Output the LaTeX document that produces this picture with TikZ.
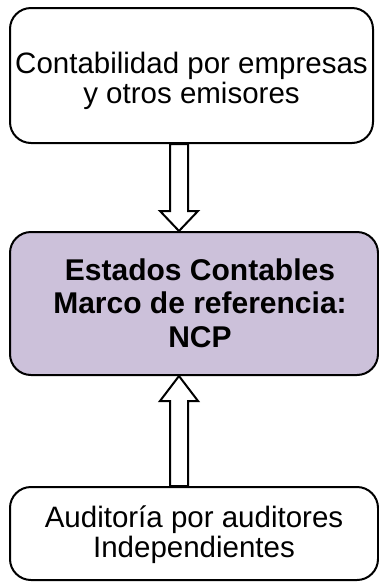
\documentclass[tikz,border=0pt]{standalone}
\usepackage{fontspec}
\setmainfont{Liberation Sans}
\usetikzlibrary{calc}
\definecolor{lav}{HTML}{CCC1DA}
\tikzset{
  box/.style={draw=black, line width=2pt, rounded corners=21pt, inner sep=0pt, align=center},
  blockarrow/.style={draw=black, line width=2pt, fill=white, line join=miter},
  regtext/.style={font=\fontsize{29.5}{30}\selectfont},
  boldtext/.style={font=\fontsize{30}{33.5}\selectfont\bfseries}
}
\begin{document}
\begin{tikzpicture}[x=1pt,y=-1pt]
\useasboundingbox (0,0) rectangle (379,582);
\node[box, regtext, minimum width=363pt, minimum height=135pt] (top) at (191.5,75.5) {\raisebox{-13pt}[0pt][0pt]{\begin{tabular}{@{}c@{}}Contabilidad por empresas\\y otros emisores\end{tabular}}};
\node[box, boldtext, fill=lav, minimum width=368pt, minimum height=143pt] (mid) at (194,303.5) {\raisebox{-10pt}[0pt][0pt]{\begin{tabular}{@{}c@{}}Estados Contables\\Marco de referencia:\\NCP\end{tabular}}\hspace*{-12pt}};
\node[box, regtext, minimum width=368pt, minimum height=93pt] (bot) at (194,533.5) {\raisebox{-9pt}[0pt][0pt]{\begin{tabular}{@{}c@{}}Auditoría por auditores\\Independientes\end{tabular}}};
% arrow from top to mid
\draw[blockarrow] ($(top.south)+(-21.5,0)$) -- ($(top.south)+(-3.5,0)$) -- ($(top.south)+(-3.5,67)$) -- ($(top.south)+(6.5,67)$) -- ($(mid.north)+(-15,0)$) -- ($(top.south)+(-31.5,67)$) -- ($(top.south)+(-21.5,67)$) -- cycle;
% arrow from bot to mid
\draw[blockarrow] ($(bot.north)+(-24,0)$) -- ($(bot.north)+(-6,0)$) -- ($(bot.north)+(-6,-85)$) -- ($(bot.north)+(4,-85)$) -- ($(mid.south)+(-15,0)$) -- ($(bot.north)+(-34,-85)$) -- ($(bot.north)+(-24,-85)$) -- cycle;
\end{tikzpicture}
\end{document}
